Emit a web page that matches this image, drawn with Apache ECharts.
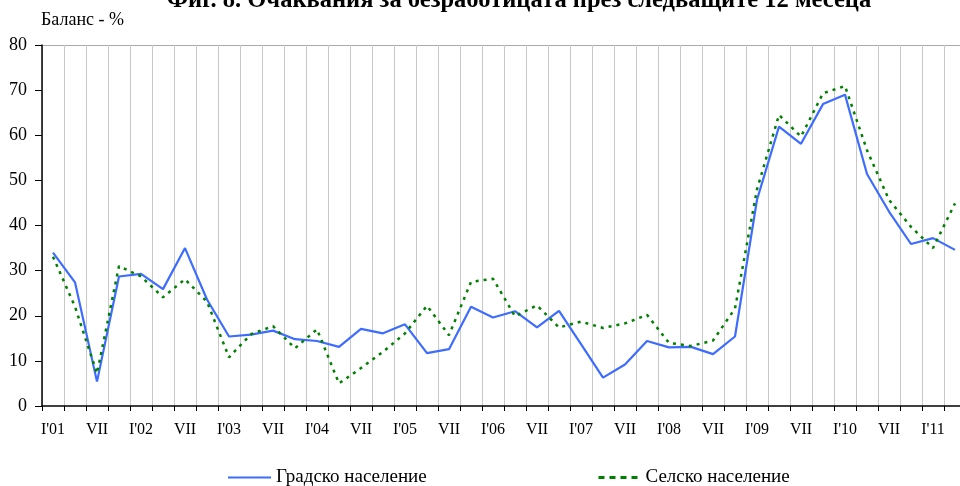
<!DOCTYPE html>
<html lang="bg">
<head>
<meta charset="UTF-8">
<script src="https://cdn.jsdelivr.net/npm/echarts@6/dist/echarts.min.js"></script>
<title>Фиг. 8</title>
<style>
  html, body { margin: 0; padding: 0; background: #fff; }
  #main { width: 960px; height: 486px; }
</style>
</head>
<body>
<div id="main"></div>
<script type="text/javascript">
// тримесечия I'01 - X'11
var quarters = [];
var years = ['01','02','03','04','05','06','07','08','09','10','11'];
years.forEach(function (y) {
    quarters.push("I'" + y, 'IV', 'VII', 'X');
});
quarters = quarters.slice(0, 42);

var gradsko = [34.0, 27.4, 5.4, 28.7, 29.3, 25.9, 35.0, 23.6, 15.4, 15.8,
               16.7, 14.8, 14.4, 13.1, 17.1, 16.1, 18.1, 11.7, 12.6, 22.0,
               19.6, 21.0, 17.4, 21.1, 13.7, 6.3, 9.2, 14.4, 13.0, 13.1,
               11.5, 15.4, 45.7, 61.9, 58.1, 66.9, 69.0, 51.4, 43.1, 35.9,
               37.2, 34.6];

var selsko = [33.1, 22.0, 7.2, 31.0, 28.7, 24.1, 28.1, 23.1, 10.8, 15.9,
              17.7, 12.8, 17.0, 5.0, 8.4, 12.0, 16.1, 22.2, 15.7, 27.5,
              28.2, 19.9, 22.3, 17.4, 18.7, 17.3, 18.3, 20.2, 14.0, 13.3,
              14.5, 21.6, 48.0, 64.5, 59.7, 69.3, 70.9, 56.7, 45.7, 39.7,
              35.0, 44.9];

var serif = '"Liberation Serif", "DejaVu Serif", serif';

var myChart = echarts.init(document.getElementById('main'));

var option = {
    animation: false,
    title: {
        text: 'Фиг. 8. Очаквания за безработицата през следващите 12 месеца',
        left: 162,
        top: -17,
        textStyle: { fontFamily: serif, fontSize: 24.5, fontWeight: 'bold', color: '#000' }
    },
    graphic: [{
        type: 'text',
        left: 41,
        top: 11,
        style: { text: 'Баланс - %', fontFamily: serif, fontSize: 18, fill: '#000' }
    }],
    legend: [{
        data: ['Градско население'],
        left: 222,
        top: 463,
        itemWidth: 43,
        itemHeight: 14,
        itemGap: 7,
        itemStyle: { opacity: 0 },
        textStyle: { fontFamily: serif, fontSize: 19, color: '#000' }
    }, {
        data: ['Селско население'],
        left: 592,
        top: 463,
        itemWidth: 42,
        itemHeight: 14,
        itemGap: 7,
        itemStyle: { opacity: 0 },
        lineStyle: { type: [6, 5], width: 3 },
        textStyle: { fontFamily: serif, fontSize: 19, color: '#000' }
    }],
    grid: {
        left: 42,
        width: 924,
        top: 45,
        height: 361,
        containLabel: false,
        outerBoundsMode: 'none'
    },
    xAxis: {
        type: 'category',
        data: quarters,
        boundaryGap: true,
        axisLine: { lineStyle: { color: '#000', width: 1.5 } },
        axisTick: { show: true, interval: 0, length: 5, lineStyle: { color: '#000' } },
        axisLabel: { interval: 1, color: '#000', fontFamily: serif, fontSize: 16, margin: 16 },
        splitLine: { show: true, interval: 0, lineStyle: { color: '#c8c8c8', width: 1 } }
    },
    yAxis: {
        type: 'value',
        min: 0,
        max: 80,
        interval: 10,
        axisLine: { show: true, lineStyle: { color: '#000', width: 1.5 } },
        axisTick: { show: true, length: 7, lineStyle: { color: '#000' } },
        axisLabel: { color: '#000', fontFamily: serif, fontSize: 18, margin: 15 },
        splitLine: {
            show: true,
            lineStyle: {
                color: ['transparent', 'transparent', 'transparent', 'transparent',
                        'transparent', 'transparent', 'transparent', 'transparent', '#aaa']
            }
        }
    },
    series: [{
        name: 'Градско население',
        type: 'line',
        data: gradsko,
        symbol: 'none',
        lineStyle: { color: '#3d6cff', width: 2.2 },
        itemStyle: { color: '#3d6cff' }
    }, {
        name: 'Селско население',
        type: 'line',
        data: selsko,
        symbol: 'none',
        lineStyle: { color: '#008000', width: 2.5, type: [3, 5] },
        itemStyle: { color: '#008000' }
    }]
};

myChart.setOption(option);
</script>
</body>
</html>
